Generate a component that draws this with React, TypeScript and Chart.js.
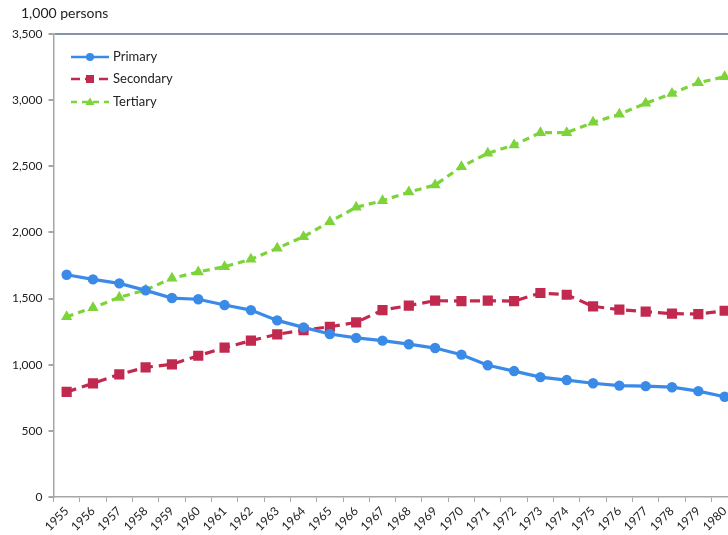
import React, { useEffect, useRef } from "react";
import { Chart, registerables } from "chart.js";

Chart.register(...registerables);

const years = [
  "1955", "1956", "1957", "1958", "1959", "1960", "1961", "1962", "1963",
  "1964", "1965", "1966", "1967", "1968", "1969", "1970", "1971", "1972",
  "1973", "1974", "1975", "1976", "1977", "1978", "1979", "1980",
];

const primary = [
  1680, 1645, 1615, 1562, 1504, 1495, 1451, 1413, 1335, 1282, 1232, 1203, 1182,
  1155, 1126, 1076, 996, 952, 906, 884, 860, 842, 838, 830, 800, 758,
];

const secondary = [
  794, 859, 927, 980, 1003, 1068, 1129, 1182, 1230, 1262, 1287, 1320, 1413,
  1447, 1484, 1481, 1484, 1481, 1542, 1529, 1441, 1416, 1401, 1386, 1383, 1408,
];

const tertiary = [
  1363, 1431, 1509, 1565, 1653, 1701, 1741, 1797, 1880, 1968, 2081, 2190, 2240,
  2305, 2358, 2497, 2598, 2661, 2754, 2754, 2832, 2893, 2976, 3051, 3132, 3177,
];

const seriesNames = ["Primary", "Secondary", "Tertiary"];
const yTitle = "1,000 persons";

const BLUE = "#3a8ae8";
const RED = "#c2294f";
const GREEN = "#7dd43a";
const FONT = "Lato, 'Liberation Sans', sans-serif";

const overlayPlugin = {
  id: "overlay",
  afterDraw(chart: any) {
    const ctx = chart.ctx as CanvasRenderingContext2D;
    ctx.save();
    // axis unit title
    ctx.fillStyle = "#222";
    ctx.font = `14px ${FONT}`;
    ctx.textAlign = "left";
    ctx.textBaseline = "middle";
    ctx.fillText(yTitle, 21, 13);

    // legend
    const items = chart.data.datasets.map((ds: any) => ds);
    const rows = [57, 79, 102];
    items.forEach((ds: any, i: number) => {
      const y = rows[i];
      const x0 = 71;
      const x1 = 109;
      ctx.save();
      ctx.strokeStyle = ds.borderColor;
      ctx.lineWidth = 2.5;
      ctx.setLineDash(i === 0 ? [] : i === 1 ? [9, 5] : [6, 5]);
      ctx.beginPath();
      ctx.moveTo(x0, y);
      ctx.lineTo(x1, y);
      ctx.stroke();
      ctx.setLineDash([]);
      ctx.fillStyle = ds.borderColor;
      const cx = (x0 + x1) / 2;
      ctx.beginPath();
      if (i === 0) {
        ctx.arc(cx, y, 4, 0, Math.PI * 2);
      } else if (i === 1) {
        ctx.rect(cx - 4, y - 4, 8, 8);
      } else {
        ctx.moveTo(cx, y - 4.5);
        ctx.lineTo(cx + 4.5, y + 3);
        ctx.lineTo(cx - 4.5, y + 3);
        ctx.closePath();
      }
      ctx.fill();
      ctx.restore();
      ctx.fillStyle = "#222";
      ctx.font = `13px ${FONT}`;
      ctx.textAlign = "left";
      ctx.textBaseline = "middle";
      ctx.fillText(ds.label, 113, y);
    });
    ctx.restore();
  },
};

export default function App() {
  const canvasRef = useRef<HTMLCanvasElement | null>(null);

  useEffect(() => {
    if (!canvasRef.current) return;
    const chart = new Chart(canvasRef.current, {
      type: "line",
      data: {
        labels: years,
        datasets: [
          {
            label: seriesNames[0],
            data: primary,
            borderColor: BLUE,
            backgroundColor: BLUE,
            borderWidth: 3.2,
            pointStyle: "circle",
            pointRadius: 5.2,
            pointBorderWidth: 0,
            pointBackgroundColor: BLUE,
            tension: 0,
          },
          {
            label: seriesNames[1],
            data: secondary,
            borderColor: RED,
            backgroundColor: RED,
            borderWidth: 3.2,
            borderDash: [10, 6],
            pointStyle: "rect",
            pointRadius: 7.2,
            pointBorderWidth: 0,
            pointBackgroundColor: RED,
            tension: 0,
          },
          {
            label: seriesNames[2],
            data: tertiary,
            borderColor: GREEN,
            backgroundColor: GREEN,
            borderWidth: 3.2,
            borderDash: [7, 5],
            pointStyle: "triangle",
            pointRadius: 6.5,
            pointBorderWidth: 0,
            pointBackgroundColor: GREEN,
            tension: 0,
          },
        ],
      },
      options: {
        animation: false,
        responsive: true,
        maintainAspectRatio: false,
        locale: "en-US",
        layout: { padding: { top: 34, right: 7, left: 0, bottom: 0 } },
        plugins: {
          legend: { display: false },
          title: { display: false },
          tooltip: { enabled: false },
        },
        scales: {
          x: {
            type: "category",
            offset: true,
            grid: {
              display: true,
              drawOnChartArea: false,
              drawTicks: true,
              tickLength: 5,
              tickColor: "#a6a6a6",
              offset: true,
            },
            border: { display: true, color: "#a6a6a6", width: 1.5 },
            ticks: {
              autoSkip: false,
              minRotation: 45,
              maxRotation: 45,
              padding: 2,
              color: "#222",
              font: { family: FONT, size: 12 },
            },
            afterFit(scale: any) {
              scale.height = 38;
            },
          },
          y: {
            min: 0,
            max: 3500,
            ticks: {
              stepSize: 500,
              padding: 6,
              color: "#222",
              font: { family: FONT, size: 12 },
            },
            grid: {
              display: true,
              drawOnChartArea: true,
              drawTicks: true,
              tickLength: 5,
              tickColor: "#a6a6a6",
              lineWidth: 2,
              color: (c: any) =>
                c.tick && c.tick.value === 3500 ? "#8393ab" : "rgba(0,0,0,0)",
            },
            border: { display: true, color: "#a6a6a6", width: 1.5 },
            afterFit(scale: any) {
              scale.width = 53.5;
            },
          },
        },
      },
      plugins: [overlayPlugin],
    });
    return () => chart.destroy();
  }, []);

  return (
    <div
      style={{
        position: "fixed",
        left: 0,
        top: 0,
        width: 728,
        height: 535,
        overflow: "hidden",
        background: "#fff",
      }}
    >
      <div style={{ position: "relative", width: 745, height: 535 }}>
        <canvas ref={canvasRef} />
      </div>
    </div>
  );
}
